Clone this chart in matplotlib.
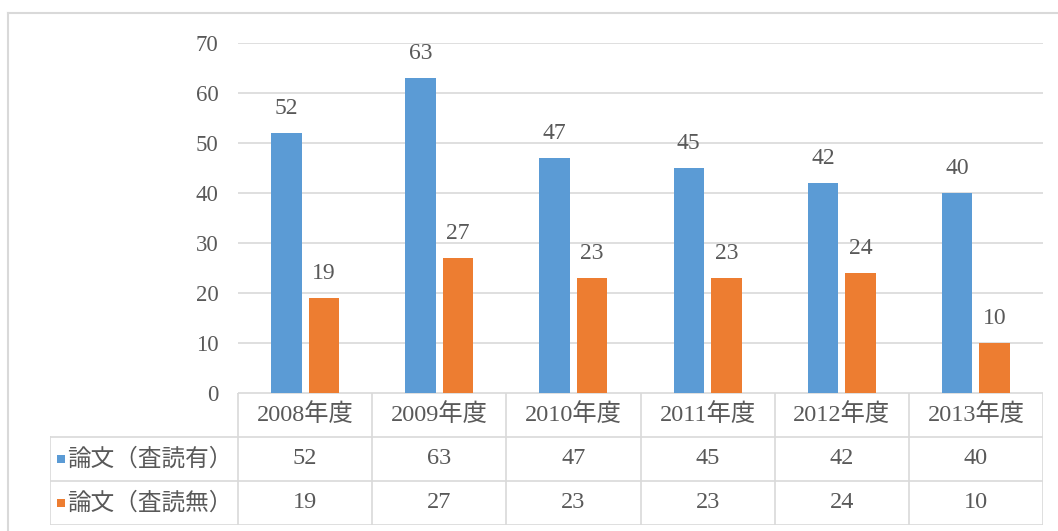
import matplotlib.pyplot as plt
from matplotlib.lines import Line2D
from matplotlib.patches import Rectangle
import numpy as np

plt.rcParams['font.family'] = ['Liberation Serif', 'Noto Sans CJK JP']

annees = ['2008年度', '2009年度', '2010年度', '2011年度', '2012年度', '2013年度']
series_noms = ['論文（査読有）', '論文（査読無）']
avec_lecture = [52, 63, 47, 45, 42, 40]
sans_lecture = [19, 27, 23, 23, 24, 10]
couleurs = ['#5B9BD5', '#ED7D31']
gris_txt = '#595959'
gris_ligne = '#D9D9D9'

W, H = 1058, 531
fig = plt.figure(figsize=(W / 100, H / 100), dpi=100)

# zone des barres (en pixels -> fraction)
x0, x1 = 238, 1043
y0, y70 = 393, 43
ax = fig.add_axes([x0 / W, 1 - y0 / H, (x1 - x0) / W, (y0 - y70) / H])

pos = np.arange(len(annees)) + 0.5
larg = 0.227
dec = 0.14
ax.bar(pos - dec, avec_lecture, larg, color=couleurs[0], zorder=2)
ax.bar(pos + dec, sans_lecture, larg, color=couleurs[1], zorder=2)

for i in range(len(annees)):
    ax.annotate(str(avec_lecture[i]), (pos[i] - dec, avec_lecture[i]), xytext=(0, 14),
                textcoords='offset points', ha='center', va='baseline', fontsize=17, color=gris_txt)
    ax.annotate(str(sans_lecture[i]), (pos[i] + dec, sans_lecture[i]), xytext=(0, 14),
                textcoords='offset points', ha='center', va='baseline', fontsize=17, color=gris_txt)

ax.set_xlim(0, len(annees))
ax.set_ylim(0, 70)
ax.set_yticks(range(0, 71, 10))
ax.set_xticks([])
ax.tick_params(axis='y', length=0, pad=14, labelsize=16.5, labelcolor=gris_txt)
ax.grid(axis='y', color=gris_ligne, lw=1.2, zorder=0)
for s in ax.spines.values():
    s.set_visible(False)

# tableau de données
tl = 50
tb = 525
ta = fig.add_axes([tl / W, 1 - tb / H, (x1 - tl) / W, (tb - y0) / H])
cw = (x1 - x0) / len(annees)
rh = (tb - y0) / 3
ta.set_xlim(-(x0 - tl) / cw, len(annees))
ta.set_ylim(0, 3)
ta.axis('off')
xg = ta.get_xlim()[0]

kw = dict(color=gris_ligne, lw=1.2)
ta.plot([0, len(annees)], [3, 3], **kw)
for yy in [2, 1, 0]:
    ta.plot([xg, len(annees)], [yy, yy], **kw)
ta.plot([xg, xg], [0, 2], **kw)
for k in range(len(annees) + 1):
    ta.plot([k, k], [0, 3], **kw)

for i, a in enumerate(annees):
    ta.text(pos[i], 2.5, a, ha='center', va='center', fontsize=17.5, color=gris_txt)
    ta.text(pos[i], 1.5, str(avec_lecture[i]), ha='center', va='center', fontsize=17.5, color=gris_txt)
    ta.text(pos[i], 0.5, str(sans_lecture[i]), ha='center', va='center', fontsize=17.5, color=gris_txt)

for r, (nom, c) in enumerate(zip(series_noms, couleurs)):
    yy = 1.5 - r
    ta.add_patch(Rectangle((xg + 7 / cw, yy - 4 / rh), 8 / cw, 8 / rh, color=c, lw=0))
    ta.text(xg + 17 / cw, yy, nom, ha='left', va='center', fontsize=17, color=gris_txt)

# cadre du graphique
fig.add_artist(Line2D([8 / W, 1], [1 - 12.5 / H, 1 - 12.5 / H], color=gris_ligne, lw=1.5))
fig.add_artist(Line2D([8 / W, 8 / W], [0, 1 - 12.5 / H], color=gris_ligne, lw=1.5))

fig.savefig('out.png', dpi=100)
